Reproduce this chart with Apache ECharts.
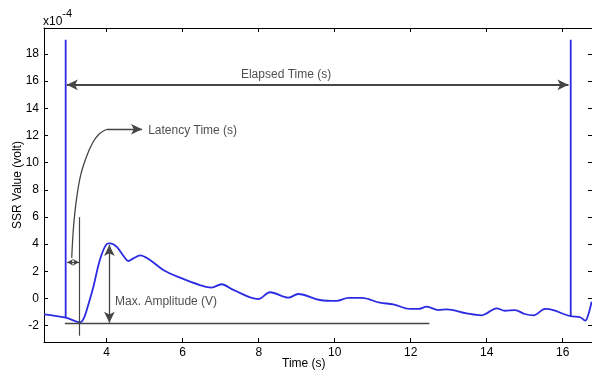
<!DOCTYPE html>
<html>
<head>
<meta charset="utf-8">
<script src="https://cdn.jsdelivr.net/npm/echarts@6/dist/echarts.min.js"></script>
<style>
  html, body { margin: 0; padding: 0; background: #fff; }
  #chart { width: 592px; height: 375px; }
</style>
</head>
<body>
<div id="chart"></div>
<script>
// SSR trace, values in units of 1e-4 volt
const curveX = [2.35, 2.92, 3.30, 3.40, 3.50, 3.65, 3.82, 4.00, 4.09, 4.26, 4.45, 4.57, 4.70, 4.88, 5.14, 5.49, 5.93, 6.45, 6.76, 7.02, 7.33, 7.99, 8.30, 8.78, 9.04, 9.61, 10.05, 10.36, 10.71, 11.19, 11.54, 11.98, 12.20, 12.42, 12.73, 12.95, 13.47, 13.87, 14.00, 14.26, 14.48, 14.74, 15.00, 15.23, 15.54, 15.75, 16.02, 16.21, 16.46, 16.59, 16.67, 16.76];
const curveY = [-1.16, -1.41, -1.75, -1.45, -0.60, 0.87, 2.83, 4.01, 4.06, 3.81, 3.10, 2.76, 2.95, 3.18, 2.83, 2.10, 1.53, 0.99, 0.80, 1.05, 0.63, -0.04, 0.46, 0.06, 0.33, -0.11, -0.18, 0.04, 0.04, -0.31, -0.43, -0.77, -0.77, -0.60, -0.85, -0.80, -1.09, -1.24, -1.09, -0.72, -0.90, -0.85, -1.14, -1.24, -0.77, -0.85, -1.14, -1.30, -1.38, -1.63, -1.21, -0.24];

// vertical markers at stimulus start / end
const markerStart = [[2.92, -1.41], [2.92, 19.03]];
const markerEnd = [[16.21, -1.30], [16.21, 19.03]];

// latency annotation curve
const latencyX = [3.08, 3.12, 3.19, 3.30, 3.45, 3.62, 3.80, 4.00];
const latencyY = [3.0, 5.0, 7.0, 8.9, 10.3, 11.4, 12.1, 12.45];

const xTicks = [4, 6, 8, 10, 12, 14, 16];
const yTicks = [-2, 0, 2, 4, 6, 8, 10, 12, 14, 16, 18];

const notes = [
  { name: 'Elapsed Time (s)', value: [8.72, 16.46], align: 'center' },
  { name: 'Latency Time (s)', value: [5.09, 12.33], align: 'left' },
  { name: 'Max. Amplitude (V)', value: [4.22, -0.26], align: 'left' }
];

const BLUE = '#2b2be2';
const GRAY = '#454545';
const FONT = 'Liberation Sans, Arial, sans-serif';

const chart = echarts.init(document.getElementById('chart'));

function seg(a, b, sym, size, width) {
  return [
    { coord: a, symbol: sym[0], symbolSize: size },
    { coord: b, symbol: sym[1], symbolSize: size, lineStyle: { width: width } }
  ];
}

const axisCommon = {
  type: 'value',
  axisLine: { show: true, onZero: false, lineStyle: { color: '#000', width: 1 } },
  splitLine: { show: false },
  axisLabel: { color: '#000', fontSize: 12, fontFamily: FONT }
};

chart.setOption({
  animation: false,
  grid: { left: 44, right: 0, top: 28, bottom: 33, containLabel: false, outerBoundsMode: 'none' },
  xAxis: [
    Object.assign({}, axisCommon, {
      min: 2.35, max: 16.77, position: 'bottom',
      axisTick: { inside: true, length: 4, customValues: xTicks, lineStyle: { color: '#000' } },
      axisLabel: Object.assign({}, axisCommon.axisLabel, { customValues: xTicks, margin: 5 })
    }),
    Object.assign({}, axisCommon, {
      min: 2.35, max: 16.77, position: 'top',
      axisTick: { inside: true, length: 4, customValues: xTicks, lineStyle: { color: '#000' } },
      axisLabel: { show: false }
    })
  ],
  yAxis: [
    Object.assign({}, axisCommon, {
      min: -3.2, max: 19.9, position: 'left',
      axisTick: { inside: true, length: 4, customValues: yTicks, lineStyle: { color: '#000' } },
      axisLabel: Object.assign({}, axisCommon.axisLabel, { customValues: yTicks, margin: 5 }),
      name: 'SSR Value (volt)', nameLocation: 'middle', nameGap: 20, nameMoveOverlap: false,
      nameTextStyle: { color: '#000', fontSize: 12, fontFamily: FONT }
    }),
    Object.assign({}, axisCommon, {
      min: -3.2, max: 19.9, position: 'right',
      axisTick: { inside: true, length: 4, customValues: yTicks, lineStyle: { color: '#000' } },
      axisLabel: { show: false }
    })
  ],
  graphic: [
    {
      type: 'text', left: 43, top: 8,
      style: {
        text: '{a|x10}{b|-4}',
        rich: {
          a: { fontSize: 12, fontFamily: FONT, fill: '#000', verticalAlign: 'bottom', padding: [8, 0, 0, 0] },
          b: { fontSize: 11, fontFamily: FONT, fill: '#000', verticalAlign: 'top' }
        }
      }
    },
    {
      type: 'text', left: 282, top: 358,
      style: { text: 'Time (s)', fontSize: 12, fontFamily: FONT, fill: '#000' }
    }
  ],
  series: [
    {
      type: 'line', data: curveX.map((x, i) => [x, curveY[i]]),
      smooth: 0.35, showSymbol: false, silent: true,
      lineStyle: { color: BLUE, width: 1.8 }
    },
    {
      type: 'line', data: markerStart, showSymbol: false, silent: true,
      lineStyle: { color: BLUE, width: 1.8 }
    },
    {
      type: 'line', data: markerEnd, showSymbol: false, silent: true,
      lineStyle: { color: BLUE, width: 1.8 }
    },
    {
      type: 'line', data: latencyX.map((x, i) => [x, latencyY[i]]),
      smooth: 0.3, showSymbol: false, silent: true,
      lineStyle: { color: GRAY, width: 1.3 }
    },
    {
      type: 'line', data: [], silent: true,
      markLine: {
        silent: true, animation: false,
        label: { show: false },
        lineStyle: { color: GRAY, width: 1.3, type: 'solid' },
        itemStyle: { color: '#111' },
        emphasis: { disabled: true },
        data: [
          seg([2.95, 15.72], [16.15, 15.72], ['arrow', 'arrow'], [8, 11], 2),
          seg([4.0, 12.45], [4.93, 12.45], ['none', 'arrow'], [8, 11], 1.3),
          seg([2.96, 2.66], [3.27, 2.66], ['arrow', 'arrow'], [5, 6], 1.2),
          seg([4.07, 3.94], [4.07, -1.78], ['arrow', 'arrow'], [8, 11], 1.3),
          seg([3.27, 5.98], [3.27, -2.74], ['none', 'none'], 0, 1.2),
          seg([2.90, -1.83], [12.49, -1.83], ['none', 'none'], 0, 1.3)
        ]
      }
    },
    {
      type: 'scatter', symbolSize: 0, silent: true,
      data: notes.map(n => ({
        name: n.name, value: n.value,
        label: { align: n.align }
      })),
      label: {
        show: true, position: 'inside', formatter: p => p.name,
        color: '#222', fontSize: 12, fontFamily: FONT
      }
    }
  ]
});
</script>
</body>
</html>
